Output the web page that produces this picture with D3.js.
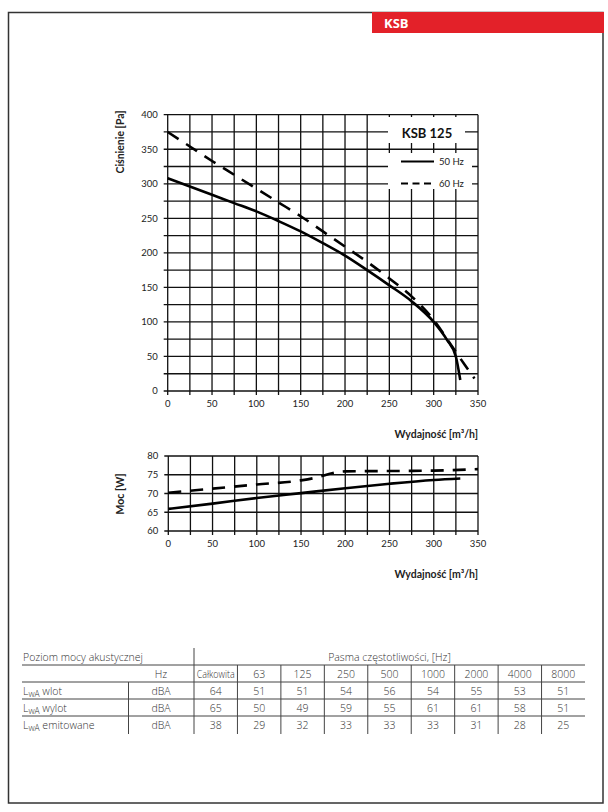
<!DOCTYPE html>
<html>
<head>
<meta charset="utf-8">
<script src="https://cdn.jsdelivr.net/npm/d3@7"></script>
<style>
  html, body { margin:0; padding:0; background:#fff; }
  svg { display:block; }
  .tick-lbl { font-family: Lato, "Open Sans", sans-serif; font-size:9.5px; fill:#222; }
  .ax-title { font-family: Lato, "Open Sans", sans-serif; font-size:10.5px; font-weight:bold; fill:#222; }
  .tbl { font-family: "Open Sans", Lato, sans-serif; font-size:10.5px; fill:#333; font-weight:300; }
</style>
</head>
<body>
<svg id="page" width="608" height="812"></svg>
<script>
const flowTicks = [0, 50, 100, 150, 200, 250, 300, 350];
const pressTicks = [0, 50, 100, 150, 200, 250, 300, 350, 400];
const powerTicks = [60, 65, 70, 75, 80];

// Ciśnienie [Pa] w funkcji wydajności [m3/h]
const press50Flow = [0, 25, 50, 75, 100, 125, 150, 175, 200, 225, 250, 275, 300, 315, 325, 330];
const press50Val  = [308, 296, 284, 272, 260, 246, 231, 214, 196, 175, 153, 130, 100, 74, 50, 16];
const press60Flow = [0, 25, 50, 75, 100, 125, 150, 175, 200, 225, 250, 275, 300, 320, 335, 346];
const press60Val  = [375, 354, 333, 313, 293, 273, 253, 231, 209, 187, 163, 137, 103, 66, 38, 18];

// Moc [W] w funkcji wydajności [m3/h]
const power50Flow = [0, 50, 100, 150, 200, 250, 300, 330];
const power50Val  = [65.9, 67.3, 68.8, 70.1, 71.4, 72.6, 73.6, 74.0];
const power60Flow = [0, 50, 100, 150, 170, 185, 200, 250, 300, 350];
const power60Val  = [70.2, 71.3, 72.4, 73.5, 74.4, 75.4, 75.9, 76.0, 76.1, 76.5];

// Tabela poziomu mocy akustycznej
const bands = ["Całkowita", "63", "125", "250", "500", "1000", "2000", "4000", "8000"];
const rowNames = ["wlot", "wylot", "emitowane"];
const rowWlot = [64, 51, 51, 54, 56, 54, 55, 53, 51];
const rowWylot = [65, 50, 49, 59, 55, 61, 61, 58, 51];
const rowEmit = [38, 29, 32, 33, 33, 33, 31, 28, 25];

const svg = d3.select("#page");

/* ---------- ramka strony i nagłówek ---------- */
svg.append("rect").attr("x", 8.5).attr("y", 12.5).attr("width", 594.5).attr("height", 790.5)
  .attr("fill", "none").attr("stroke", "#333").attr("stroke-width", 1.5);
svg.append("rect").attr("x", 372).attr("y", 12).attr("width", 232).attr("height", 21).attr("fill", "#e32129");
svg.append("text").attr("x", 384).attr("y", 28).text("KSB")
  .attr("font-family", "'Open Sans', sans-serif").attr("font-weight", "bold").attr("font-size", 13).attr("fill", "#fff");

/* ---------- wspólne rysowanie siatki ---------- */
function drawPanel(opt){
  const g = svg.append("g");
  const x = d3.scaleLinear().domain([0, 350]).range([opt.x0, opt.x1]);
  const y = d3.scaleLinear().domain(opt.yDomain).range([opt.y1, opt.y0]);

  const xGrid = d3.range(0, 351, 25);
  const yGrid = d3.range(opt.yDomain[0], opt.yDomain[1] + 0.01, opt.yStep);

  g.selectAll("line.v").data(xGrid).enter().append("line")
    .attr("x1", d => x(d)).attr("x2", d => x(d))
    .attr("y1", opt.y0).attr("y2", opt.y1 + 4)
    .attr("stroke", "#111").attr("stroke-width", 1.3);
  g.selectAll("line.h").data(yGrid).enter().append("line")
    .attr("x1", opt.x0 - 4).attr("x2", opt.x1)
    .attr("y1", d => y(d)).attr("y2", d => y(d))
    .attr("stroke", "#111").attr("stroke-width", 1.3);

  g.selectAll("text.yl").data(opt.yTicks).enter().append("text")
    .attr("class", "tick-lbl").attr("x", opt.x0 - 10).attr("y", d => y(d) + 3.3)
    .attr("text-anchor", "end").text(d => d);
  g.selectAll("text.xl").data(flowTicks).enter().append("text")
    .attr("class", "tick-lbl").attr("x", d => x(d)).attr("y", opt.y1 + 16)
    .attr("text-anchor", "middle").text(d => d);

  g.append("text").attr("class", "ax-title")
    .attr("transform", `translate(${opt.yTitleX},${opt.yTitleY}) rotate(-90)`)
    .attr("text-anchor", "middle").text(opt.yTitle);
  g.append("text").attr("class", "ax-title")
    .attr("x", opt.x1).attr("y", opt.y1 + 47).attr("text-anchor", "end")
    .text("Wydajność [m³/h]");

  return { g, x, y };
}

function drawCurve(p, xs, ys, dashed){
  const pts = xs.map((d, i) => [d, ys[i]]);
  const line = d3.line().x(d => p.x(d[0])).y(d => p.y(d[1])).curve(d3.curveMonotoneX);
  p.g.append("path").attr("d", line(pts)).attr("fill", "none")
    .attr("stroke", "#000").attr("stroke-width", 2.6)
    .attr("stroke-dasharray", dashed ? "13,9" : null);
}

/* ---------- wykres ciśnienia ---------- */
const pressPanel = drawPanel({
  x0: 167.7, x1: 478, y0: 114.7, y1: 391,
  yDomain: [0, 400], yStep: 25, yTicks: pressTicks,
  yTitle: "Ciśnienie [Pa]", yTitleX: 124, yTitleY: 142
});

// legenda na białym tle
pressPanel.g.append("rect").attr("x", 388).attr("y", 117).attr("width", 77).attr("height", 26).attr("fill", "#fff");
pressPanel.g.append("rect").attr("x", 388).attr("y", 153).attr("width", 84).attr("height", 36).attr("fill", "#fff");
pressPanel.g.append("text").attr("x", 427).attr("y", 137.5).attr("text-anchor", "middle")
  .attr("font-family", "Lato, sans-serif").attr("font-weight", "bold").attr("font-size", 13)
  .attr("fill", "#111").text("KSB 125");
pressPanel.g.append("line").attr("x1", 401).attr("x2", 434).attr("y1", 161.5).attr("y2", 161.5)
  .attr("stroke", "#000").attr("stroke-width", 2);
pressPanel.g.append("line").attr("x1", 401).attr("x2", 434).attr("y1", 183.5).attr("y2", 183.5)
  .attr("stroke", "#000").attr("stroke-width", 2).attr("stroke-dasharray", "7,4.5");
pressPanel.g.append("text").attr("class", "tick-lbl").attr("x", 439).attr("y", 164.5).attr("font-size", 9).text("50 Hz");
pressPanel.g.append("text").attr("class", "tick-lbl").attr("x", 439).attr("y", 186.5).attr("font-size", 9).text("60 Hz");

drawCurve(pressPanel, press50Flow, press50Val, false);
drawCurve(pressPanel, press60Flow, press60Val, true);

/* ---------- wykres mocy ---------- */
const powerPanel = drawPanel({
  x0: 168.3, x1: 478, y0: 456, y1: 531,
  yDomain: [60, 80], yStep: 5, yTicks: powerTicks,
  yTitle: "Moc [W]", yTitleX: 124, yTitleY: 494
});
drawCurve(powerPanel, power50Flow, power50Val, false);
drawCurve(powerPanel, power60Flow, power60Val, true);

/* ---------- tabela akustyczna ---------- */
const tbl = svg.append("g");
const colX = d3.scaleBand().domain(bands).range([194, 585]);
const rowY = [665, 682, 699, 716];
const tblLeft = 22, tblRight = 585, tblTop = 648, tblBottom = 734;

rowY.forEach(yy => {
  tbl.append("line").attr("x1", tblLeft).attr("x2", tblRight).attr("y1", yy).attr("y2", yy)
    .attr("stroke", "#444").attr("stroke-width", 1);
});
tbl.append("line").attr("x1", 194).attr("x2", 194).attr("y1", tblTop).attr("y2", tblBottom)
  .attr("stroke", "#444").attr("stroke-width", 1);
tbl.append("line").attr("x1", 128.5).attr("x2", 128.5).attr("y1", rowY[1]).attr("y2", tblBottom)
  .attr("stroke", "#444").attr("stroke-width", 1);
bands.slice(1).forEach(b => {
  tbl.append("line").attr("x1", colX(b)).attr("x2", colX(b)).attr("y1", rowY[0]).attr("y2", tblBottom)
    .attr("stroke", "#444").attr("stroke-width", 1);
});

tbl.append("text").attr("class", "tbl").attr("x", 23).attr("y", 661).text("Poziom mocy akustycznej");
tbl.append("text").attr("class", "tbl").attr("x", (194 + tblRight) / 2).attr("y", 661)
  .attr("text-anchor", "middle").text("Pasma częstotliwości, [Hz]");
tbl.append("text").attr("class", "tbl").attr("x", 161).attr("y", 678).attr("text-anchor", "middle").text("Hz");

bands.forEach(b => {
  tbl.append("text").attr("class", "tbl").attr("x", colX(b) + colX.bandwidth() / 2).attr("y", 678)
    .attr("text-anchor", "middle")
    .attr("textLength", b === "Całkowita" ? 38 : null)
    .attr("lengthAdjust", "spacingAndGlyphs")
    .text(b);
});

const rows = [rowWlot, rowWylot, rowEmit];
const rowBase = [695, 712, 729];
rows.forEach((vals, i) => {
  const t = tbl.append("text").attr("class", "tbl").attr("x", 23).attr("y", rowBase[i]);
  t.append("tspan").text("L");
  t.append("tspan").attr("font-size", 8.5).attr("dy", 2).text("wA");
  t.append("tspan").attr("dy", -2).text(" " + rowNames[i]);
  tbl.append("text").attr("class", "tbl").attr("x", 161).attr("y", rowBase[i])
    .attr("text-anchor", "middle").text("dBA");
  tbl.selectAll(null).data(vals).enter().append("text")
    .attr("class", "tbl")
    .attr("x", (d, j) => colX(bands[j]) + colX.bandwidth() / 2)
    .attr("y", rowBase[i]).attr("text-anchor", "middle").text(d => d);
});
</script>
</body>
</html>
